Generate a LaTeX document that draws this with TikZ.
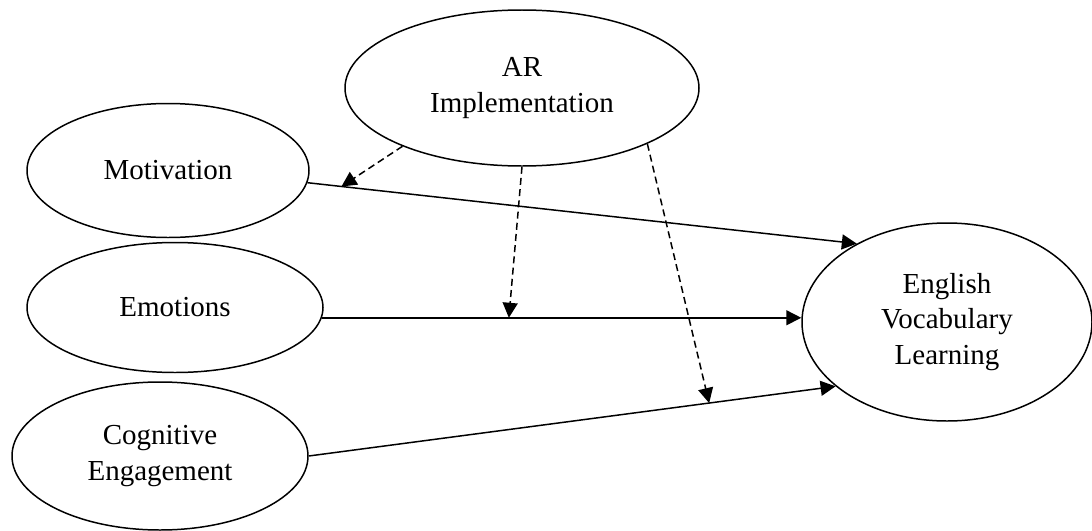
\documentclass[tikz,border=0pt]{standalone}
\usepackage{fontspec}
\setmainfont{Liberation Serif}
\usepackage{tikz}
\usetikzlibrary{shapes.geometric}
\usetikzlibrary{arrows.meta}
\usetikzlibrary{calc}

\begin{document}
\begin{tikzpicture}[
        construct/.style={ellipse, draw, line width=0.85pt, inner sep=0pt, align=center,
            font=\fontsize{16.5}{20}\selectfont},
        path/.style={line width=0.85pt, -{Triangle[length=0.3cm, width=0.3cm]}},
        moderate/.style={path, dash pattern=on 4pt off 2.4pt}
    ]
        \useasboundingbox (0,0) rectangle (21.84,-10.62);

        % moderator
        \node[construct, minimum width=7.08cm, minimum height=3.12cm] (ar) at (10.44,-1.76) {AR\\Implementation};

        % independent variables
        \node[construct, minimum width=5.64cm, minimum height=2.68cm] (mot) at (3.36,-3.41) {Motivation};
        \node[construct, minimum width=5.92cm, minimum height=2.60cm] (emo) at (3.50,-6.15) {Emotions};
        \node[construct, minimum width=5.92cm, minimum height=2.96cm] (cog) at (3.20,-9.12) {Cognitive\\Engagement};

        % dependent variable
        \node[construct, minimum width=5.80cm, minimum height=3.96cm] (eng) at (18.94,-6.44) {English\\Vocabulary\\Learning};

        % direct paths
        \draw[path] (mot.-5) -- coordinate[pos=0.062] (m1) (eng.139);
        \draw[path] (emo.-4) -- coordinate[pos=0.39] (m2) (emo.-4 -| eng.west);
        \draw[path] (cog.east) -- coordinate[pos=0.76] (m3) (eng.210);

        % moderating paths
        \draw[moderate] (ar.206) -- (m1);
        \draw[moderate] (ar.south) -- (m2);
        \draw[moderate] (ar.-24) -- (m3);

    \end{tikzpicture}
\end{document}
